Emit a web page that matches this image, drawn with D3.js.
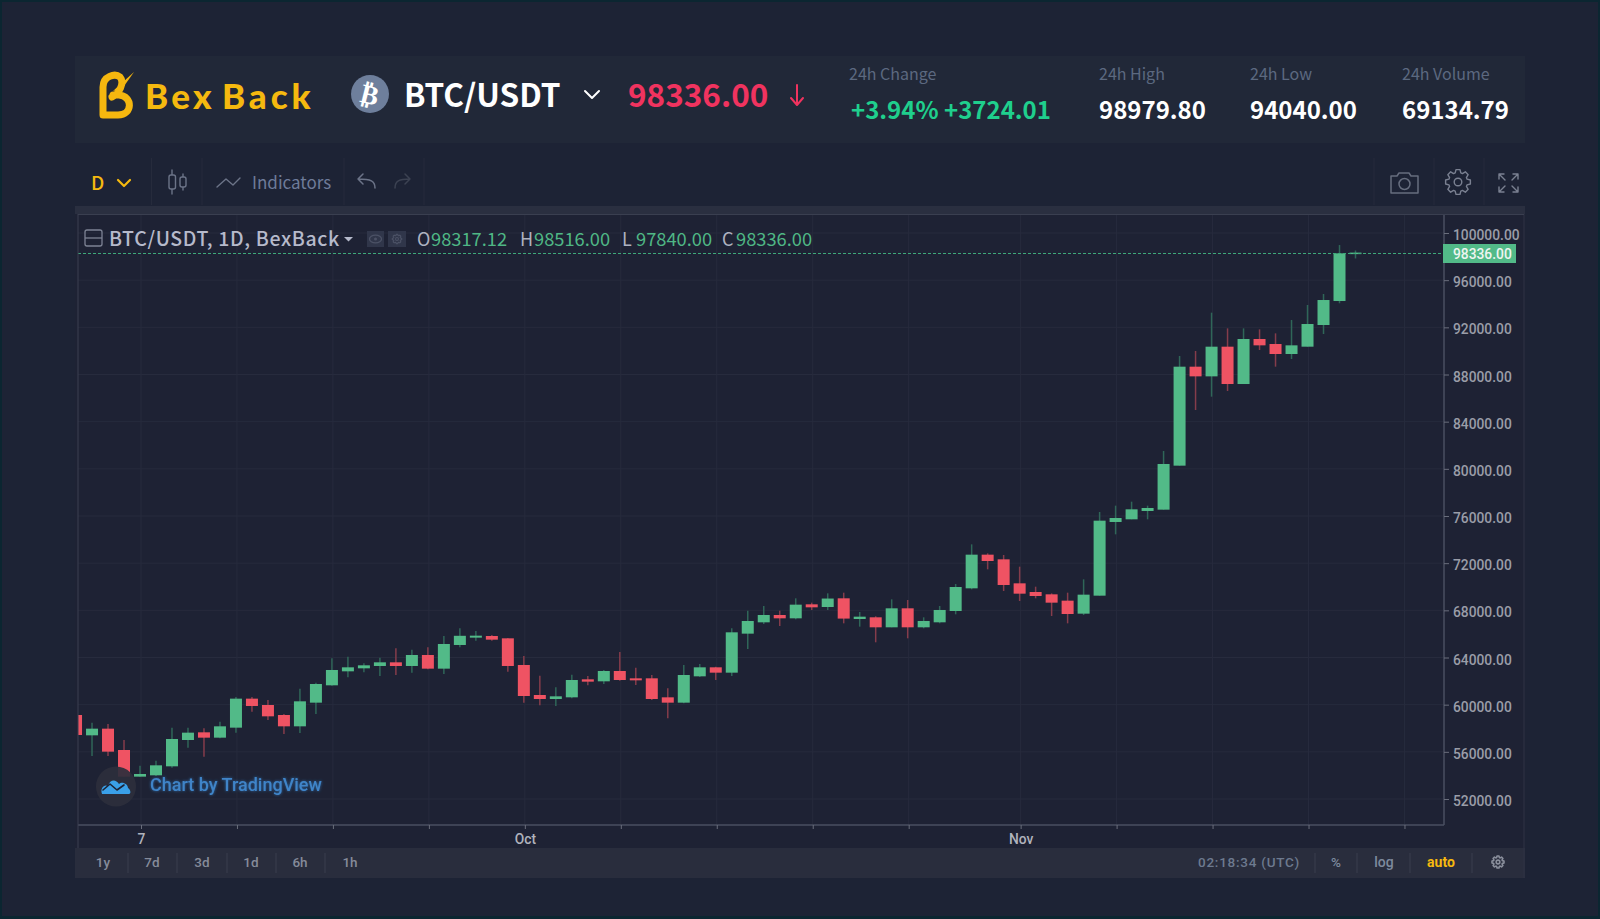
<!DOCTYPE html>
<html>
<head>
<meta charset="utf-8">
<title>BTC/USDT</title>
<script src="https://cdn.jsdelivr.net/npm/d3@7/dist/d3.min.js"></script>
<style>
  html, body { margin: 0; padding: 0; background: #1d2335; overflow: hidden; }
  svg { display: block; }
  text { font-family: "Noto Sans CJK SC", "Noto Sans", sans-serif; }
  .axis text { font-family: Roboto, sans-serif; font-weight: 500; }
</style>
</head>
<body>
<svg id="chart" width="1600" height="919"></svg>
<script>
var days = [
  "2024-09-03","2024-09-04","2024-09-05","2024-09-06","2024-09-07","2024-09-08","2024-09-09","2024-09-10","2024-09-11",
  "2024-09-12","2024-09-13","2024-09-14","2024-09-15","2024-09-16","2024-09-17","2024-09-18","2024-09-19","2024-09-20",
  "2024-09-21","2024-09-22","2024-09-23","2024-09-24","2024-09-25","2024-09-26","2024-09-27","2024-09-28","2024-09-29",
  "2024-09-30","2024-10-01","2024-10-02","2024-10-03","2024-10-04","2024-10-05","2024-10-06","2024-10-07","2024-10-08",
  "2024-10-09","2024-10-10","2024-10-11","2024-10-12","2024-10-13","2024-10-14","2024-10-15","2024-10-16","2024-10-17",
  "2024-10-18","2024-10-19","2024-10-20","2024-10-21","2024-10-22","2024-10-23","2024-10-24","2024-10-25","2024-10-26",
  "2024-10-27","2024-10-28","2024-10-29","2024-10-30","2024-10-31","2024-11-01","2024-11-02","2024-11-03","2024-11-04",
  "2024-11-05","2024-11-06","2024-11-07","2024-11-08","2024-11-09","2024-11-10","2024-11-11","2024-11-12","2024-11-13",
  "2024-11-14","2024-11-15","2024-11-16","2024-11-17","2024-11-18","2024-11-19","2024-11-20","2024-11-21","2024-11-22"
];
var opens = [
  59124,57400,57965,56156,53895,54008,54771,57004,57654,
  57202,58050,60510,59972,59124,58163,60170,61641,62828,
  63082,63280,63591,63280,64213,63054,65061,65683,65824,
  65626,63365,60820,60481,60622,62149,61980,62856,62234,
  62234,60622,60170,62403,63167,62714,66022,66983,67605,
  67322,68510,68283,69019,67265,67408,66560,68171,66560,
  66984,67943,69866,72721,72325,70290,69555,69357,68820,
  67718,69244,75492,75718,76425,76537,80269,88663,87843,
  90359,87193,91010,90586,89738,90359,92197,94232,98317.12
];
var highs = [
  59300,58474,58361,57004,54828,55252,58050,58050,57994,
  58559,60650,60650,60397,59209,61358,61850,63930,64072,
  63506,63987,64778,64665,64863,65824,66475,66248,65909,
  65655,64128,62460,61470,62545,62432,62940,64467,63138,
  62516,61386,63365,63449,63223,66474,67972,68368,67972,
  69018,68651,69443,69498,67859,67500,68934,68878,67408,
  68369,70233,73597,72834,72693,71703,70007,69441,69498,
  70629,76340,76877,77216,76877,81513,89568,89992,93243,
  91914,91914,91829,91490,92621,93893,94826,98979.8,98516
];
var lows = [
  57300,55647,55647,53895,53895,53951,54658,56354,55591,
  57150,57626,59407,58700,57513,57598,59209,61600,62319,
  62743,62432,62517,62715,62998,62602,64863,65428,65428,
  62799,60170,59944,59887,60538,61640,61753,62036,61668,
  60396,58841,60113,62347,62092,62432,64722,66842,66672,
  67238,68029,68029,66897,66615,65288,66560,65627,66475,
  66899,67661,69781,71477,69640,68791,69018,67519,66897,
  67605,69244,74446,75718,75718,76537,80269,84988,86119,
  86600,87193,90077,88663,89313,90359,91434,94040,97840
];
var closes = [
  57428,57965,56015,53895,54121,54856,57089,57626,57202,
  58163,60510,59888,59011,58163,60284,61754,62941,63167,
  63337,63591,63280,64213,63054,65146,65840,65852,65513,
  63280,60735,60481,60707,62092,61951,62856,62092,62064,
  60481,60170,62516,63167,62714,66135,67096,67605,67322,
  68481,68255,69000,67300,67463,66560,68171,66560,67097,
  68030,69979,72721,72184,70149,69413,69216,68650,67689,
  69329,75604,75831,76566,76679,80411,88663,87843,90359,
  87193,91010,90473,89738,90473,92282,94317,98275,98336
];
var priceTicks = [52000,56000,60000,64000,68000,72000,76000,80000,84000,88000,92000,96000,100000];
var timeTicks = [
  "2024-09-07","2024-09-13","2024-09-19","2024-09-25","2024-10-01","2024-10-07","2024-10-13",
  "2024-10-19","2024-10-25","2024-11-01","2024-11-07","2024-11-13","2024-11-19","2024-11-25"
];
var timeLabels = { "2024-09-07": "7", "2024-10-01": "Oct", "2024-11-01": "Nov" };
var lastPrice = 98336;
var legendValues = [["O", "98317.12", 417], ["H", "98516.00", 520], ["L", "97840.00", 622], ["C", "98336.00", 722]];
var stats = [
  ["24h High", "98979.80", 1099],
  ["24h Low", "94040.00", 1250],
  ["24h Volume", "69134.79", 1402]
];
var ranges = [["1y", 103], ["7d", 152], ["3d", 202], ["1d", 251], ["6h", 300], ["1h", 350]];

var green = "#52ba88", red = "#ef5363", orange = "#f5b90f";
var parseDay = d3.utcParse("%Y-%m-%d");

var svg = d3.select("#chart");

var candles = days.map(function(d, i) {
  return { day: parseDay(d), open: opens[i], high: highs[i], low: lows[i], close: closes[i] };
});

var plot = { left: 78, right: 1444, top: 214, bottom: 825 };

var x = d3.scaleUtc()
  .domain([parseDay("2024-09-07"), parseDay("2024-11-22")])
  .range([140, 1355.5]);
var y = d3.scaleLinear()
  .domain([52000, 100000])
  .range([799, 233]);

function box(x0, y0, w, h, fill) {
  return svg.append("rect").attr("x", x0).attr("y", y0).attr("width", w).attr("height", h).attr("fill", fill);
}
function label(px, py, txt, size, fill, weight, anchor) {
  return svg.append("text").attr("x", px).attr("y", py).text(txt)
    .attr("font-size", size).attr("fill", fill)
    .attr("font-weight", weight || 400)
    .attr("text-anchor", anchor || "start");
}
function stroke(d, color, w) {
  return svg.append("path").attr("d", d).attr("fill", "none")
    .attr("stroke", color).attr("stroke-width", w || 1.5)
    .attr("stroke-linecap", "round").attr("stroke-linejoin", "round");
}
function gear(cx, cy, r, color, w) {
  var pts = [];
  d3.range(0, 8).forEach(function(i) {
    var a = i * Math.PI / 4;
    [[-0.3, r], [-0.16, r * 1.32], [0.16, r * 1.32], [0.3, r]].forEach(function(p) {
      pts.push([cx + p[1] * Math.cos(a + p[0]), cy + p[1] * Math.sin(a + p[0])]);
    });
  });
  stroke("M" + pts.join("L") + "Z", color, w);
  svg.append("circle").attr("cx", cx).attr("cy", cy).attr("r", r * 0.4)
    .attr("fill", "none").attr("stroke", color).attr("stroke-width", w);
}

// page background and frame
box(0, 0, 1600, 919, "#0b2631");
box(2, 2, 1596, 914, "#1d2335");

// header
box(75, 56, 1450, 87, "#212838");
stroke("M103 115 V87 C103 76 115 73 120 77 C125 83 119 94 112 97 M103 115 H118 C133 115 133 96 119 95 H113", "#f5b70f", 7);
svg.append("path").attr("d", "M113 91 L134 72 L122 89 Z").attr("fill", "#f5b70f");
label(145, 109, "Bex", 35, orange, 900).attr("letter-spacing", 3.3).style("font-family", "Lato");
label(222, 109, "Back", 35, orange, 900).attr("letter-spacing", 3.9).style("font-family", "Lato");

svg.append("circle").attr("cx", 370).attr("cy", 94).attr("r", 19).attr("fill", "#6e7f9c");
label(370, 104, "\u20BF", 27, "#fff", 700, "middle")
  .style("font-family", "DejaVu Sans")
  .attr("transform", "rotate(14 370 94)");
label(404, 107, "BTC/USDT", 31.6, "#fff", 700);
stroke("M585 91 L592 98 L599 91", "#fff", 2);
label(628, 107, "98336.00", 31.5, "#f0335f", 700);
stroke("M797 85 V104 M791 98 L797 105 L803 98", "#f0335f", 2);

label(849, 80, "24h Change", 16, "#5c6980");
label(851, 119, "+3.94% +3724.01", 24, "#1fcf8d", 700);
stats.forEach(function(s) {
  label(s[2], 80, s[0], 16, "#5c6980");
  label(s[2], 119, s[1], 24, "#fff", 700);
});

// toolbar
box(75, 206, 1450, 8, "#2a2f40");
[151.5, 202, 344, 424, 1374, 1434, 1484].forEach(function(sx) {
  svg.append("line").attr("x1", sx).attr("x2", sx).attr("y1", 158).attr("y2", 205).attr("stroke", "#262b3c");
});
label(91, 190, "D", 19, orange, 500);
stroke("M118 180 L124 186 L130 180", orange, 2.2);
stroke("M172 170 V194 M183 174 V190", "#6c7488", 1.4);
svg.append("rect").attr("x", 169).attr("y", 175).attr("width", 6.5).attr("height", 14).attr("rx", 2)
  .attr("fill", "#1d2335").attr("stroke", "#6c7488").attr("stroke-width", 1.4);
svg.append("rect").attr("x", 180).attr("y", 177).attr("width", 6).attr("height", 10).attr("rx", 2)
  .attr("fill", "#1d2335").attr("stroke", "#6c7488").attr("stroke-width", 1.4);
stroke("M217 187 L226 179 L233 185 L240 178", "#6c7488", 1.4);
label(252, 189, "Indicators", 17, "#6e7b99");
stroke("M375 188 C375 181 371 179 358 179 M358 179 L363 174 M358 179 L363 184", "#6c7488", 1.5);
stroke("M395 188 C395 181 399 179 410 179 M410 179 L405 174 M410 179 L405 184", "#3c4252", 1.5);
stroke("M1391 176 H1397 L1399 173 H1409 L1411 176 H1418 V193 H1391 Z", "#666d7e", 1.5);
svg.append("circle").attr("cx", 1404.5).attr("cy", 184).attr("r", 5.5)
  .attr("fill", "none").attr("stroke", "#666d7e").attr("stroke-width", 1.5);
gear(1458, 182, 9.5, "#7a8091", 1.4);
stroke("M1499 179 V174 H1504 M1499 174 L1505 180 M1518 179 V174 H1513 M1518 174 L1512 180 M1499 187 V192 H1504 M1499 192 L1505 186 M1518 187 V192 H1513 M1518 192 L1512 186", "#7a8091", 1.4);

// chart panel
box(75, 214, 1450, 664, "#1e2234");
box(75, 848, 1450, 30, "#292d3d");

svg.append("g").selectAll("line")
  .data(priceTicks)
  .enter().append("line")
  .attr("x1", plot.left).attr("x2", plot.right)
  .attr("y1", function(d) { return y(d); })
  .attr("y2", function(d) { return y(d); })
  .attr("stroke", "#272b3d");

svg.append("g").selectAll("line")
  .data(timeTicks)
  .enter().append("line")
  .attr("x1", function(d) { return x(parseDay(d)) + 1; })
  .attr("x2", function(d) { return x(parseDay(d)) + 1; })
  .attr("y1", plot.top).attr("y2", plot.bottom)
  .attr("stroke", "#272b3d");

svg.append("clipPath").attr("id", "plot-clip").append("rect")
  .attr("x", plot.left).attr("y", plot.top)
  .attr("width", plot.right - plot.left).attr("height", plot.bottom - plot.top);

var candleGroup = svg.append("g").attr("clip-path", "url(#plot-clip)");

candleGroup.selectAll("line")
  .data(candles)
  .enter().append("line")
  .attr("x1", function(d) { return x(d.day); })
  .attr("x2", function(d) { return x(d.day); })
  .attr("y1", function(d) { return y(d.high); })
  .attr("y2", function(d) { return y(d.low); })
  .attr("stroke-width", 1.5)
  .attr("stroke", function(d) { return d.close >= d.open ? "#2f6658" : "#853c4b"; });

candleGroup.selectAll("rect")
  .data(candles)
  .enter().append("rect")
  .attr("x", function(d) { return x(d.day) - 6; })
  .attr("width", 12)
  .attr("y", function(d) { return y(Math.max(d.open, d.close)); })
  .attr("height", function(d) { return Math.max(1.5, Math.abs(y(d.open) - y(d.close))); })
  .attr("fill", function(d) { return d.close >= d.open ? green : red; });

// last price line
svg.append("line")
  .attr("x1", plot.left).attr("x2", plot.right)
  .attr("y1", Math.round(y(lastPrice)) + 0.5).attr("y2", Math.round(y(lastPrice)) + 0.5)
  .attr("stroke", "#3ea87a").attr("stroke-dasharray", "3 2");

// axes
var yAxis = svg.append("g").attr("class", "axis")
  .attr("transform", "translate(" + plot.right + ",0)")
  .call(d3.axisRight(y).tickValues(priceTicks).tickFormat(d3.format(".2f")).tickSize(5).tickPadding(4));
yAxis.select(".domain").attr("d", "M0," + plot.top + "V" + plot.bottom).attr("stroke", "#4a4f60").attr("stroke-width", 1.5);
yAxis.selectAll(".tick line").attr("stroke", "#6a6e7c");
yAxis.selectAll("text").attr("fill", "#9a9da8").attr("font-size", 13.8).attr("dy", "0.48em");

var xAxis = svg.append("g").attr("class", "axis")
  .attr("transform", "translate(1," + plot.bottom + ")")
  .call(d3.axisBottom(x)
    .tickValues(timeTicks.map(parseDay))
    .tickFormat(function(d) { return timeLabels[d3.utcFormat("%Y-%m-%d")(d)] || ""; })
    .tickSize(4).tickPadding(5));
xAxis.select(".domain").attr("d", "M" + (plot.left - 1) + ",0H" + (plot.right - 1)).attr("stroke", "#4a4f60").attr("stroke-width", 1.5);
xAxis.selectAll(".tick line").attr("stroke", "#6a6e7c");
xAxis.selectAll("text").attr("fill", "#b0b3bd").attr("font-size", 13.8);

// panel edges
svg.append("line").attr("x1", 78).attr("x2", 78).attr("y1", 214).attr("y2", 848).attr("stroke", "#3a3f50");
svg.append("line").attr("x1", 1524).attr("x2", 1524).attr("y1", 214).attr("y2", 878).attr("stroke", "#2e3344");
svg.append("line").attr("x1", 78).attr("x2", 1524).attr("y1", 214.5).attr("y2", 214.5).attr("stroke", "#3a3f50");

// price tag
box(1443, 244, 73, 19, green);
label(1453, 258.5, "98336.00", 13.8, "#eef5f1", 500).style("font-family", "Roboto");

// legend
svg.append("rect").attr("x", 85).attr("y", 230).attr("width", 17).attr("height", 16).attr("rx", 2)
  .attr("fill", "none").attr("stroke", "#7d8394").attr("stroke-width", 1.3);
svg.append("line").attr("x1", 85).attr("x2", 102).attr("y1", 238).attr("y2", 238).attr("stroke", "#7d8394").attr("stroke-width", 1.3);
label(109, 246, "BTC/USDT, 1D, BexBack", 19.5, "#b6bacb", 500).attr("letter-spacing", 0.65);
svg.append("path").attr("d", "M344 237 H353 L348.5 241.5 Z").attr("fill", "#b6bacb");
box(367, 231, 17, 16, "#30364a");
box(388, 231, 18, 16, "#30364a");
svg.append("ellipse").attr("cx", 375.5).attr("cy", 239).attr("rx", 6).attr("ry", 3.8)
  .attr("fill", "none").attr("stroke", "#4c5266").attr("stroke-width", 1.3);
svg.append("circle").attr("cx", 375.5).attr("cy", 239).attr("r", 1.5).attr("fill", "#4c5266");
gear(397, 239, 3.6, "#4c5266", 1.1);
legendValues.forEach(function(v) {
  label(v[2], 246, v[0], 18, "#aeb2c0");
  label(v[2] + 14, 246, v[1], 18.3, "#4fb785");
});

// watermark
var defs = svg.append("defs");
var glow = defs.append("filter").attr("id", "glow");
glow.append("feDropShadow").attr("dx", 0).attr("dy", 0).attr("stdDeviation", 1.5).attr("flood-color", "#2f78bb").attr("flood-opacity", 0.8);
svg.append("circle").attr("cx", 116).attr("cy", 786.5).attr("r", 20).attr("fill", "#2c2f3c").attr("opacity", 0.92);
svg.append("path")
  .attr("d", "M102 794 C100 788 104 784 108 786 C110 779 116 779 119 784 C122 781 128 784 128 788 C131 790 131 794 129 794 Z")
  .attr("fill", "#3aa0e8");
stroke("M103 790 L110 784 L117 790 L124 785", "#1e2234", 1.6);
label(150, 791, "Chart by TradingView", 18, "#3f84c8", 500).attr("filter", "url(#glow)").style("font-family", "Roboto");

// bottom bar
ranges.forEach(function(r, i) {
  label(r[1], 867, r[0], 13.5, "#858b9a", 500, "middle").style("font-family", "Roboto");
  if (i < 5) {
    svg.append("line").attr("x1", r[1] + 25).attr("x2", r[1] + 25).attr("y1", 853).attr("y2", 873).attr("stroke", "#3a3e4e");
  }
});
[1315, 1357, 1410, 1472].forEach(function(sx) {
  svg.append("line").attr("x1", sx).attr("x2", sx).attr("y1", 853).attr("y2", 873).attr("stroke", "#3a3e4e");
});
label(1198, 867, "02:18:34 (UTC)", 13.5, "#6d7a8f", 500).style("font-family", "Roboto").attr("letter-spacing", 0.75);
label(1336, 867, "%", 13.5, "#7d8a9e", 500, "middle").style("font-family", "Roboto");
label(1384, 867, "log", 14, "#7d8a9e", 500, "middle").style("font-family", "Roboto");
label(1441, 867, "auto", 14, orange, 700, "middle").style("font-family", "Roboto");
gear(1498, 862, 4.6, "#8a8f9c", 1.6);
</script>
</body>
</html>
